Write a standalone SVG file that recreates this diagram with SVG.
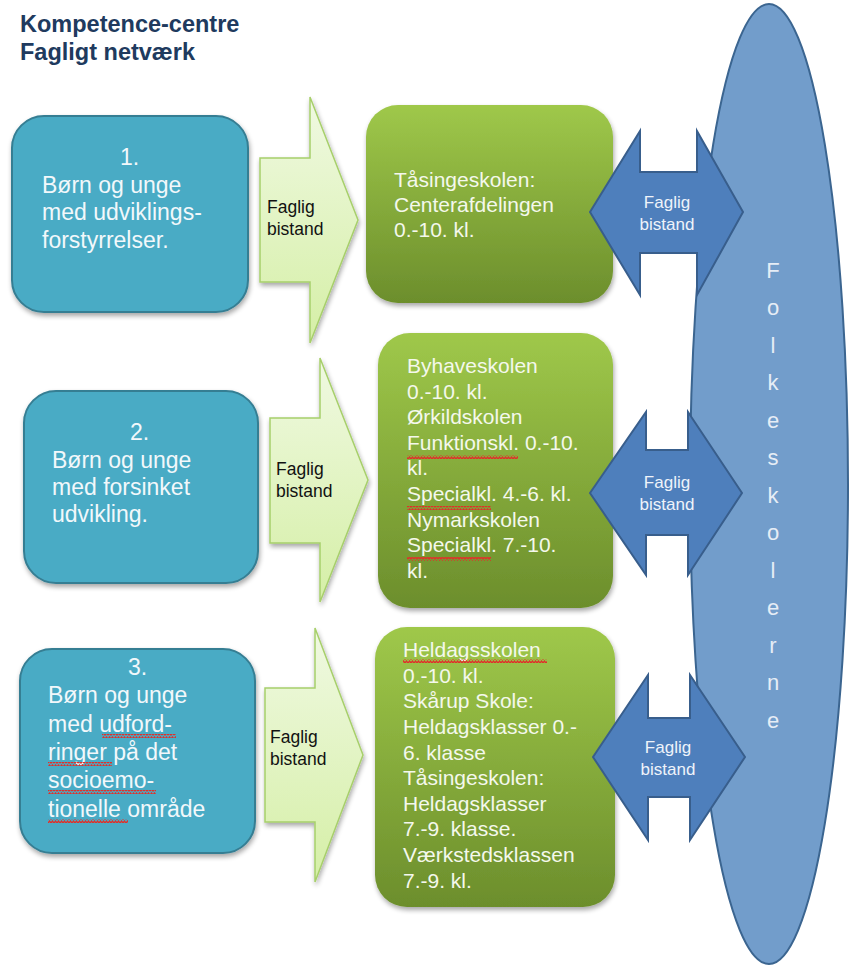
<svg xmlns="http://www.w3.org/2000/svg" width="849" height="967" viewBox="0 0 849 967">
<defs>
<linearGradient id="gGreen" x1="0" y1="0" x2="0" y2="1"><stop offset="0" stop-color="#9fc84a"/><stop offset="1" stop-color="#6c8e2c"/></linearGradient>
<linearGradient id="gLight" x1="0" y1="0" x2="0" y2="1"><stop offset="0" stop-color="#f0f9e2"/><stop offset="1" stop-color="#d5efa6"/></linearGradient>
<filter id="sh" x="-10%" y="-10%" width="130%" height="130%"><feGaussianBlur in="SourceAlpha" stdDeviation="2.5"/><feOffset dx="1" dy="3" result="b"/><feComponentTransfer><feFuncA type="linear" slope="0.35"/></feComponentTransfer><feMerge><feMergeNode/><feMergeNode in="SourceGraphic"/></feMerge></filter>
<pattern id="wave" width="6" height="4" patternUnits="userSpaceOnUse"><path d="M0 3 L1.5 1 L3 3 L4.5 1 L6 3" fill="none" stroke="#e0302a" stroke-width="1.3"/></pattern>
<style>
.title{font-family:"Liberation Sans",Arial,sans-serif;font-weight:bold;font-size:23.5px;fill:#203a5e}
.bbox{fill:#4aabc5;stroke:#367e93;stroke-width:2}
.btxt{font-family:"Liberation Sans",Arial,sans-serif;font-size:23px;fill:#f2f8fb}
.gbox{fill:url(#gGreen)}
.gtxt{font-family:"Liberation Sans",Arial,sans-serif;font-size:21px;fill:#f4f8ec}
.larrow{fill:url(#gLight);stroke:#a7cf6b;stroke-width:1.5}
.ltxt{font-family:"Liberation Sans",Arial,sans-serif;font-size:17.5px;fill:#111}
.darrow{fill:#4e7fbc;stroke:#385e8c;stroke-width:2}
.dtxt{font-family:"Liberation Sans",Arial,sans-serif;font-size:17px;fill:#eef3fa;text-anchor:middle}
.ell{fill:#729dcb;stroke:#3b6590;stroke-width:2}
.etxt{font-family:"Liberation Sans",Arial,sans-serif;font-size:22px;fill:#e6edf6;text-anchor:middle}
.wv{fill:url(#wave)}
</style>
</defs>

<g id="title">
<text class="title" x="20" y="32">Kompetence-centre</text>
<text class="title" x="20" y="60">Fagligt netværk</text>
</g>

<g id="folkeskolerne">
<ellipse class="ell" cx="769" cy="484" rx="79" ry="480"/>
<text class="etxt" x="773" y="278">F</text>
<text class="etxt" x="773" y="315">o</text>
<text class="etxt" x="773" y="353">l</text>
<text class="etxt" x="773" y="390">k</text>
<text class="etxt" x="773" y="428">e</text>
<text class="etxt" x="773" y="465">s</text>
<text class="etxt" x="773" y="503">k</text>
<text class="etxt" x="773" y="540">o</text>
<text class="etxt" x="773" y="578">l</text>
<text class="etxt" x="773" y="615">e</text>
<text class="etxt" x="773" y="653">r</text>
<text class="etxt" x="773" y="690">n</text>
<text class="etxt" x="773" y="728">e</text>
</g>

<g id="group1">
<rect class="bbox" x="12" y="116" width="236" height="196" rx="32" filter="url(#sh)"/>
<text class="btxt"><tspan x="120" y="165">1.</tspan><tspan x="42" y="193">Børn og unge</tspan><tspan x="42" y="220">med udviklings-</tspan><tspan x="42" y="248">forstyrrelser.</tspan></text>
</g>
<g id="group2">
<rect class="bbox" x="24" y="391" width="234" height="192" rx="32" filter="url(#sh)"/>
<text class="btxt"><tspan x="130" y="440">2.</tspan><tspan x="52" y="468">Børn og unge</tspan><tspan x="52" y="495">med forsinket</tspan><tspan x="52" y="522">udvikling.</tspan></text>
</g>
<g id="group3">
<rect class="bbox" x="20" y="649" width="235" height="204" rx="32" filter="url(#sh)"/>
<text class="btxt"><tspan x="128" y="675">3.</tspan><tspan x="48" y="703">Børn og unge</tspan><tspan x="48" y="732">med udford-</tspan><tspan x="48" y="760">ringer på det</tspan><tspan x="48" y="788">socioemo-</tspan><tspan x="48" y="817">tionelle område</tspan></text>
<rect class="wv" x="102" y="734" width="74" height="4"/>
<rect class="wv" x="48" y="762" width="64" height="4"/>
<rect class="wv" x="48" y="790" width="108" height="4"/>
<rect class="wv" x="48" y="819" width="80" height="4"/>
</g>

<g id="school1">
<rect class="gbox" x="366" y="105" width="247" height="198" rx="32" filter="url(#sh)"/>
<text class="gtxt"><tspan x="394" y="187">Tåsingeskolen:</tspan><tspan x="394" y="212">Centerafdelingen</tspan><tspan x="394" y="237">0.-10. kl.</tspan></text>
</g>
<g id="school2">
<rect class="gbox" x="378" y="333" width="235" height="275" rx="32" filter="url(#sh)"/>
<text class="gtxt"><tspan x="407" y="373">Byhaveskolen</tspan><tspan x="407" y="399">0.-10. kl.</tspan><tspan x="407" y="424">Ørkildskolen</tspan><tspan x="407" y="450">Funktionskl. 0.-10.</tspan><tspan x="407" y="475">kl.</tspan><tspan x="407" y="501">Specialkl. 4.-6. kl.</tspan><tspan x="407" y="527">Nymarkskolen</tspan><tspan x="407" y="552">Specialkl. 7.-10.</tspan><tspan x="407" y="578">kl.</tspan></text>
<rect class="wv" x="407" y="455" width="111" height="4"/>
<rect class="wv" x="407" y="506" width="84" height="4"/>
<rect class="wv" x="407" y="557" width="84" height="4"/>
</g>
<g id="school3">
<rect class="gbox" x="375" y="627" width="240" height="280" rx="32" filter="url(#sh)"/>
<text class="gtxt"><tspan x="403" y="657">Heldagsskolen</tspan><tspan x="403" y="683">0.-10. kl.</tspan><tspan x="403" y="708">Skårup Skole:</tspan><tspan x="403" y="734">Heldagsklasser 0.-</tspan><tspan x="403" y="760">6. klasse</tspan><tspan x="403" y="785">Tåsingeskolen:</tspan><tspan x="403" y="811">Heldagsklasser</tspan><tspan x="403" y="836">7.-9. klasse.</tspan><tspan x="403" y="862">Værkstedsklassen</tspan><tspan x="403" y="888">7.-9. kl.</tspan></text>
<rect class="wv" x="403" y="659" width="144" height="4"/>
</g>

<g id="connectors">
<g id="arrow1">
<path class="larrow" d="M260 158 H310 V97 L358 220 L310 343 V282 H260 Z" filter="url(#sh)"/>
<text class="ltxt"><tspan x="267" y="213">Faglig</tspan><tspan x="267" y="235">bistand</tspan></text>
</g>
<g id="arrow2">
<path class="larrow" d="M270 418 H320 V358 L368 480 L320 602 V543 H270 Z" filter="url(#sh)"/>
<text class="ltxt"><tspan x="276" y="475">Faglig</tspan><tspan x="276" y="497">bistand</tspan></text>
</g>
<g id="arrow3">
<path class="larrow" d="M265 688 H315 V628 L363 755 L315 882 V822 H265 Z" filter="url(#sh)"/>
<text class="ltxt"><tspan x="270" y="743">Faglig</tspan><tspan x="270" y="765">bistand</tspan></text>
</g>
<g id="darrow1">
<path class="darrow" d="M590 212 L640 131 V172 H697 V131 L743 212 L697 295 V253 H640 V295 Z"/>
<text class="dtxt"><tspan x="667" y="208">Faglig</tspan><tspan x="667" y="230">bistand</tspan></text>
</g>
<g id="darrow2">
<path class="darrow" d="M590 493 L646 412 V450 H688 V412 L742 493 L688 575 V535 H646 V575 Z"/>
<text class="dtxt"><tspan x="667" y="488">Faglig</tspan><tspan x="667" y="510">bistand</tspan></text>
</g>
<g id="darrow3">
<path class="darrow" d="M593 757 L648 675 V718 H690 V675 L745 757 L690 840 V797 H648 V840 Z"/>
<text class="dtxt"><tspan x="668" y="753">Faglig</tspan><tspan x="668" y="775">bistand</tspan></text>
</g>
</g>
</svg>
